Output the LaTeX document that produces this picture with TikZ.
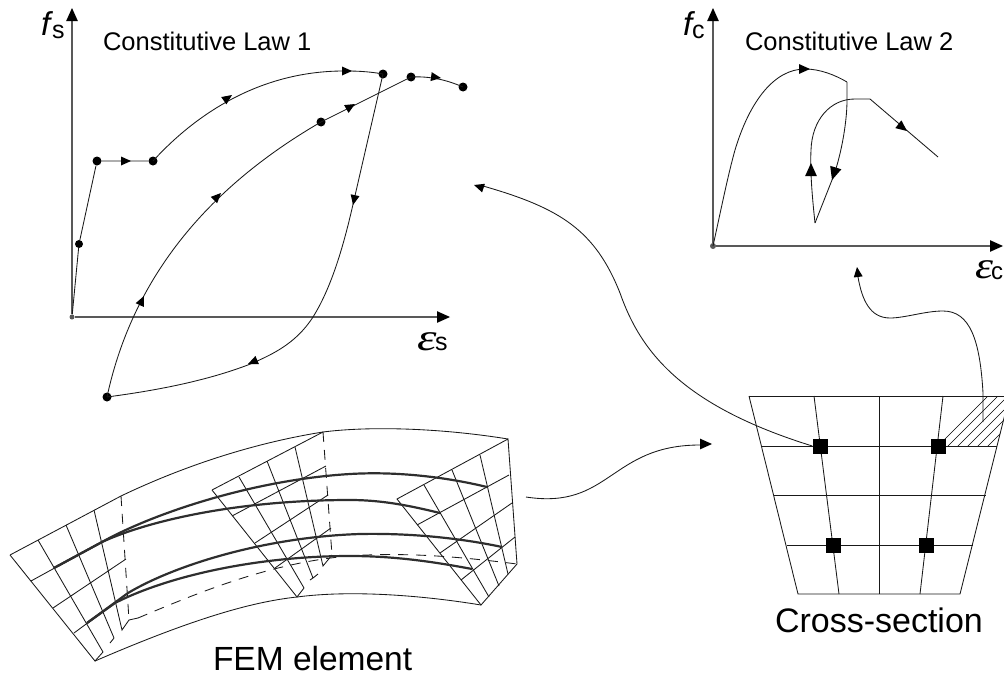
\documentclass[tikz,border=0pt]{standalone}
\usepackage{fontspec}
\setmainfont{Liberation Sans}
\newfontfamily\serifgreek{Liberation Serif}
\tikzset{
  lbl/.style={anchor=base west,inner sep=0pt,outer sep=0pt,text=black},
  thinline/.style={line width=0.85pt,black!90},
  grid/.style={line width=0.85pt,black!90},
  rebar/.style={line width=2.2pt,black!82},
  axis/.style={line width=1.4pt,black!65},
  dashedline/.style={line width=0.85pt,black!90,dash pattern=on 10pt off 8pt},
  dot/.style={circle,fill=black,inner sep=0pt,minimum size=9pt},
  odot/.style={circle,fill=black!65,inner sep=0pt,minimum size=6pt},
  fibre/.style={rectangle,fill=black,inner sep=0pt,minimum size=15pt},
  curve/.style={line width=0.85pt,black!90},
}
\newcommand{\headtip}[4]{\fill[black,shift={(#1,#2)},rotate=#3] (0,0)--(-#4,-0.45*#4)--(-#4,0.45*#4)--cycle;}
\begin{document}
\begin{tikzpicture}[x=1pt,y=-1pt]
\useasboundingbox (0,0) rectangle (1004,680);
\clip (0,0) rectangle (1004,680);

% ---------- Constitutive law 1
\node[odot,minimum size=5pt] (o1) at (72,317) {};
\coordinate (y1) at (72,18);
\coordinate (x1) at (440,317);
\draw[axis] (o1) -- (y1);
\draw[axis] (o1) -- (x1);
\headtip{72}{8}{90}{13}
\headtip{450}{317}{0}{13}
\node[dot,minimum size=8pt] (a1) at (79,244) {};
\node[dot] (a2) at (97,161) {};
\node[dot] (a3) at (153,161) {};
\node[dot] (a4) at (383,74) {};
\node[dot] (a5) at (107,397) {};
\node[dot] (a6) at (321,122) {};
\node[dot] (a7) at (411,77) {};
\node[dot] (a8) at (463,87) {};
\draw[thinline] (o1) -- (a1) -- (a2) -- (a3);
\draw[curve] (a3.center) .. controls (195,115) and (260,70) .. (347,71) .. controls (360,71) and (372,72) .. (a4.center);
\draw[curve] (a5.center) .. controls (130,290) and (195,195) .. (a6.center) -- (a7.center) .. controls (430,76) and (447,80) .. (a8.center);
\draw[curve] (a4.center) -- (354,200) .. controls (345,240) and (333,285) .. (313,317) .. controls (295,345) and (270,355) .. (253,363) .. controls (210,380) and (160,390) .. (a5.center);
\headtip{131}{161}{0}{10}
\headtip{232}{95}{35}{10}
\headtip{352}{71}{0}{10}
\headtip{144}{296}{65}{10}
\headtip{221}{193}{45}{10}
\headtip{355}{104}{30}{10}
\headtip{441}{78}{-8}{10}
\headtip{353}{205}{-102}{10}
\headtip{248}{364}{203}{10}
\node[lbl,font=\fontsize{25.5}{25.5}\selectfont] (t1) at (103,50) {Constitutive Law 1};
\node[lbl,font=\fontsize{33}{33}\selectfont\itshape] (fs) at (41,35) {f};
\node[lbl,font=\fontsize{25}{25}\selectfont] (fss) at (52,38) {s};
\node[lbl,xscale=1.3,font=\fontsize{38}{38}\selectfont\serifgreek\itshape] (es) at (417,350) {ε};
\node[lbl,font=\fontsize{25}{25}\selectfont] (ess) at (435,350) {s};

% ---------- Constitutive law 2
\node[odot] (o2) at (713,246) {};
\coordinate (y2) at (713,18);
\coordinate (x2) at (993,246);
\draw[axis] (o2) -- (y2);
\draw[axis] (o2) -- (x2);
\headtip{713}{8}{90}{13}
\headtip{1003}{246}{0}{13}
\coordinate (b1) at (847,82);
\coordinate (b2) at (815,223);
\coordinate (b3) at (870,99);
\coordinate (b4) at (938,157);
\draw[curve] (o2.center) .. controls (722,205) and (728,175) .. (735,150) .. controls (750,100) and (775,69) .. (805,69) .. controls (820,69) and (835,75) .. (b1);
\draw[curve] (b1) -- (847,100) .. controls (847,125) and (840,160) .. (832,180) -- (b2);
\draw[curve] (b2) .. controls (812,195) and (810,170) .. (811,150) .. controls (812,120) and (830,99) .. (855,99) -- (b3) -- (b4);
\headtip{810}{69}{0}{11}
\headtip{907}{131}{-38}{11}
\headtip{811}{163}{90}{13}
\headtip{832}{180}{-107}{13}
\node[lbl,font=\fontsize{25.5}{25.5}\selectfont] (t2) at (745,50) {Constitutive Law 2};
\node[lbl,font=\fontsize{33}{33}\selectfont\itshape] (fc) at (683,35) {f};
\node[lbl,font=\fontsize{25}{25}\selectfont] (fcs) at (692,38) {c};
\node[lbl,xscale=1.2,font=\fontsize{38}{38}\selectfont\serifgreek\itshape] (ec) at (975,278) {ε};
\node[lbl,font=\fontsize{24}{24}\selectfont] (ecs) at (991,279) {c};

% ---------- Cross-section
\begin{scope}
\clip (943,396) -- (1010,396) -- (997,446) -- (939,446) -- cycle;
\foreach \i in {0,...,15} {\draw[line width=0.65pt] ({930+10*\i},454) -- ({930+10*\i+62},392);}
\end{scope}
\draw[grid] (749,396) -- (1010,396);
\draw[grid] (749,396) -- (798,594) -- (960,594) -- (1006,410);
\draw[grid] (762,446) -- (997,446);
\draw[grid] (774,495) -- (986,495);
\draw[grid] (787,545) -- (973,545);
\draw[grid] (879,396) -- (879,594);
\draw[grid] (814,396) -- (839,594);
\draw[grid] (943,396) -- (920,594);
\node[fibre] (s1) at (820,446) {};
\node[fibre] (s2) at (938,446) {};
\node[fibre] (s3) at (833,545) {};
\node[fibre] (s4) at (926,545) {};
\coordinate (hatchpt) at (983,422);
\node[lbl,font=\fontsize{34}{34}\selectfont] (t3) at (775,632) {Cross-section};

% ---------- FEM element
\coordinate (A) at (10,555);
\coordinate (B) at (121,496);
\coordinate (C) at (95,661);
\coordinate (D) at (212,490);
\coordinate (E) at (323,432);
\coordinate (F) at (297,597);
\coordinate (G) at (397,499);
\coordinate (H) at (508,439);
\coordinate (I) at (481,605);
\coordinate (J) at (517,564);
\draw[grid] (A) -- (B);
\draw[grid] (A) -- (C) -- (103,652);
\draw[grid] (D) -- (E);
\draw[grid] (D) -- (F) -- (304,588);
\draw[grid] (G) -- (H) -- (J) -- (I) -- cycle;
\draw[curve] (B) .. controls (190,463) and (260,442) .. (E);
\draw[curve] (E) .. controls (370,426) and (440,428) .. (H);
\draw[curve] (C) .. controls (190,620) and (250,602) .. (F);
\draw[curve] (F) .. controls (350,590) and (420,595) .. (I);
% left section
\draw[grid] (38,540) -- (103,652);
\draw[grid] (66,525) -- (114,638) -- (110,643);
\draw[grid] (94,510) -- (122,630) -- (129,620) -- (138,618);
\draw[dashedline] (B) -- (129,620);
\draw[grid] (31,581) -- (102,542);
\draw[grid] (53,608) -- (126,559);
\draw[grid] (74,633) -- (128,593);
% middle section
\draw[grid] (239,477) -- (304,588);
\draw[grid] (267,461) -- (313,578) -- (318,574) (313,578) -- (310,580);
\draw[grid] (295,447) -- (323,566) -- (332,555);
\draw[dashedline] (E) -- (332,555);
\draw[grid] (232,516) -- (326,466);
\draw[grid] (255,543) -- (328,495);
\draw[grid] (275,568) -- (331,528);
% right section
\draw[grid] (424,485) -- (489,597);
\draw[grid] (452,470) -- (499,586);
\draw[grid] (480,455) -- (508,574);
\draw[grid] (417,525) -- (509,475);
\draw[grid] (440,553) -- (512,503);
\draw[grid] (461,580) -- (515,537);
% long dashed line
\draw[dashedline] (138,618) .. controls (200,592) and (280,558) .. (367,555) .. controls (420,553) and (470,558) .. (J);
% bars
\draw[rebar] (54,568) -- (102,542) .. controls (150,515) and (250,480) .. (350,474) .. controls (400,471) and (450,478) .. (487,487);
\draw[rebar] (54,568) -- (102,542) .. controls (150,520) and (240,500) .. (350,500) .. controls (385,500) and (415,507) .. (440,513);
\draw[rebar] (87,623) -- (128,593) .. controls (175,565) and (265,537) .. (360,534) .. controls (410,533) and (460,538) .. (502,547);
\draw[rebar] (87,623) -- (115,603) .. controls (170,575) and (260,556) .. (350,556) .. controls (395,556) and (435,562) .. (472,569);
\coordinate (femout) at (526,497);
\node[lbl,font=\fontsize{33.5}{33.5}\selectfont] (t4) at (213,670) {FEM element};

% ---------- Connectors
\coordinate (law1in) at (483,186);
\coordinate (law2in) at (858,277);
\coordinate (secin) at (700,445);
\draw[curve] (s1.west) .. controls (680,405) and (640,350) .. (620,293) .. controls (595,230) and (560,208) .. (law1in);
\draw[curve] (hatchpt) -- (983,393) .. controls (980,340) and (970,311) .. (943,311) .. controls (925,311) and (905,318) .. (890,318) .. controls (870,318) and (862,300) .. (law2in);
\draw[curve] (femout) .. controls (610,510) and (610,445) .. (secin);
\headtip{474}{185}{162}{10}
\headtip{857}{267}{97}{10}
\headtip{712}{444}{0}{12}
\end{tikzpicture}
\end{document}
